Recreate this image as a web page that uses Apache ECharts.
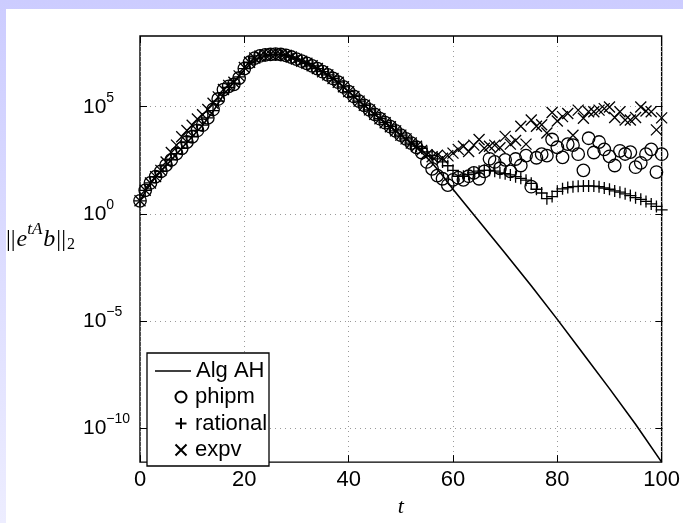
<!DOCTYPE html>
<html><head><meta charset="utf-8">
<script src="https://cdn.jsdelivr.net/npm/echarts@6.0.0/dist/echarts.min.js"></script>
<style>
html,body{margin:0;padding:0;width:683px;height:523px;overflow:hidden;background:linear-gradient(to bottom,#ccccff,#ededff);}
#paper{position:absolute;left:6px;top:9px;width:677px;height:514px;background:#fff;}
#chart{position:absolute;left:0;top:0;width:683px;height:523px;}
</style></head><body>
<div id="paper"></div><div id="chart"></div>
<script>
// ---- data (y values given as base-10 exponents) ----
const xTicks = [0, 20, 40, 60, 80, 100];
const yTickExps = [-10, -5, 0, 5];
const yMinExp = -12;
const yMaxExp = 8.301;

const algAHT = [0,2,4,6,8,10,12,14,16,18,20,22,24,26,28,30,32,34,36,38,40,42,44,46,48,50,52,54,56,58,60,65,70,75,80,85,90,95,100];
const algAHExp = [0.45,1.3,1.85,2.4,2.95,3.5,4.05,4.7,5.5,6.1,6.7,7.15,7.35,7.42,7.38,7.2,7.0,6.75,6.45,6.1,5.65,5.2,4.78,4.36,3.98,3.58,3.2,2.75,2.25,1.65,1.0,-0.52,-2.05,-3.6,-5.2,-6.85,-8.5,-10.2,-12.0];

const sampleT = [0,1,2,3,4,5,6,7,8,9,10,11,12,13,14,15,16,17,18,19,20,21,22,23,24,25,26,27,28,29,30,31,32,33,34,35,36,37,38,39,40,41,42,43,44,45,46,47,48,49,50,51,52,53,54,55,56,57,58,59,60,61,62,63,64,65,66,67,68,69,70,71,72,73,74,75,76,77,78,79,80,81,82,83,84,85,86,87,88,89,90,91,92,93,94,95,96,97,98,99,100];

const phipmExp = [0.45,0.95,1.3,1.6,1.85,2.15,2.4,2.7,2.95,3.25,
  3.5,3.8,4.05,4.4,4.8,5.3,5.75,5.9,6.0,6.3,
  6.75,7.05,7.25,7.35,7.4,7.43,7.44,7.42,7.38,7.3,
  7.2,7.1,7.0,6.88,6.75,6.6,6.45,6.28,6.1,5.88,
  5.65,5.42,5.2,5.0,4.78,4.57,4.36,4.17,3.98,3.78,
  3.58,3.4,3.2,3.0,2.75,2.3,1.97,1.65,1.5,1.2,
  1.45,1.55,1.45,1.62,1.78,1.5,1.85,2.45,2.3,2.0,
  2.4,1.85,2.44,2.13,2.6,1.12,2.5,2.67,2.6,3.37,
  3.0,2.52,3.15,3.1,2.67,1.9,3.43,2.75,3.25,2.9,
  2.57,2.13,2.83,2.68,2.77,2.05,2.26,2.67,2.9,1.82,2.67];

const rationalExp = [0.45,0.95,1.3,1.6,1.85,2.15,2.4,2.7,2.95,3.25,
  3.5,3.8,4.05,4.4,4.75,5.2,5.6,5.85,6.05,6.35,
  6.75,7.05,7.25,7.35,7.4,7.43,7.44,7.42,7.38,7.3,
  7.2,7.1,7.0,6.88,6.75,6.6,6.45,6.28,6.1,5.88,
  5.65,5.42,5.2,5.0,4.78,4.57,4.36,4.17,3.98,3.78,
  3.58,3.4,3.2,3.05,2.95,2.78,2.6,2.45,2.3,2.12,
  1.9,1.62,1.62,1.7,1.78,1.86,1.9,1.9,1.86,1.78,
  1.74,1.68,1.6,1.52,1.43,1.28,1.0,0.82,0.55,0.65,
  0.9,1.02,1.08,1.12,1.14,1.15,1.16,1.15,1.12,1.06,
  1.0,0.92,0.86,0.78,0.7,0.6,0.52,0.42,0.3,0.18,0.02];

const expvExp = [0.45,0.95,1.3,1.6,1.9,2.3,2.75,3.1,3.5,3.8,
  4.05,4.35,4.55,4.8,5.1,5.4,5.75,5.95,6.1,6.4,
  6.8,7.05,7.25,7.35,7.4,7.43,7.44,7.42,7.38,7.3,
  7.2,7.1,7.0,6.88,6.75,6.6,6.45,6.28,6.1,5.88,
  5.65,5.42,5.2,5.0,4.78,4.57,4.36,4.17,3.98,3.78,
  3.58,3.4,3.2,3.05,2.85,2.65,2.55,2.62,2.48,2.6,
  2.72,2.9,3.05,2.8,3.1,3.37,2.95,3.05,3.1,2.98,
  3.52,3.15,3.32,4.0,3.15,4.3,4.0,4.07,3.68,4.66,
  4.25,4.46,4.61,3.57,4.77,4.38,4.69,4.69,4.77,4.84,
  4.92,4.42,4.69,4.3,4.3,4.42,4.92,4.73,4.69,3.83,4.4];

// ---- layout ----
const plot = {left: 140, top: 36, width: 522.5, height: 435};
const pxPerDecade = plot.height / (yMaxExp - yMinExp);
const tickTop = plot.top + (yMaxExp - yTickExps[yTickExps.length - 1]) * pxPerDecade;
const tickHeight = (yTickExps[yTickExps.length - 1] - yTickExps[0]) * pxPerDecade;

const sans = 'Liberation Sans';
const serif = 'Liberation Serif';
const pairs = (ts, es) => ts.map((t, i) => [t, Math.pow(10, es[i])]);
const minus = n => (n < 0 ? '\u2212' + (-n) : String(n));

const chart = echarts.init(document.getElementById('chart'), null, {renderer: 'canvas'});
const tickStyle = {inside: true, length: 7, lineStyle: {color: '#000', width: 1}};
const gridLine = {show: true, lineStyle: {color: '#9a9a9a', width: 1, type: [1, 4]}};
const markerStyle = {color: 'none', borderColor: '#000', borderWidth: 1.3, opacity: 1};

chart.setOption({
  animation: false,
  backgroundColor: 'transparent',
  grid: [
    {left: plot.left, top: plot.top, width: plot.width, height: plot.height, show: true, borderColor: '#000', borderWidth: 1.4, backgroundColor: 'transparent'},
    {left: plot.left, top: tickTop, width: plot.width, height: tickHeight, show: false}
  ],
  xAxis: [
    {gridIndex: 0, type: 'value', min: xTicks[0], max: xTicks[xTicks.length - 1], interval: xTicks[1] - xTicks[0], position: 'bottom',
     axisLine: {show: false}, axisTick: tickStyle,
     axisLabel: {fontSize: 22, color: '#000', margin: 7, fontFamily: sans},
     splitLine: gridLine,
     name: 't', nameLocation: 'middle', nameGap: 28,
     nameTextStyle: {fontFamily: serif, fontStyle: 'italic', fontSize: 22, color: '#000'}},
    {gridIndex: 0, type: 'value', min: xTicks[0], max: xTicks[xTicks.length - 1], interval: xTicks[1] - xTicks[0], position: 'top',
     axisLine: {show: false}, axisTick: tickStyle, axisLabel: {show: false}, splitLine: {show: false}},
    {gridIndex: 1, type: 'value', min: 0, max: 100, show: false}
  ],
  yAxis: [
    {gridIndex: 0, type: 'log', logBase: 10, min: Math.pow(10, yMinExp), max: Math.pow(10, yMaxExp), show: false},
    {gridIndex: 1, type: 'value', min: yTickExps[0], max: yTickExps[yTickExps.length - 1], interval: yTickExps[1] - yTickExps[0], position: 'left',
     axisLine: {show: false}, axisTick: tickStyle, splitLine: gridLine,
     axisLabel: {
       align: 'left', margin: 57,
       formatter: v => '{b|10}{s|' + minus(v) + '}',
       rich: {
         b: {fontSize: 21, fontFamily: sans, color: '#000', lineHeight: 32},
         s: {fontSize: 14, fontFamily: sans, color: '#000', lineHeight: 14, verticalAlign: 'top'}
       }
     }},
    {gridIndex: 1, type: 'value', min: yTickExps[0], max: yTickExps[yTickExps.length - 1], interval: yTickExps[1] - yTickExps[0], position: 'right',
     axisLine: {show: false}, axisTick: tickStyle, axisLabel: {show: false}, splitLine: {show: false}}
  ],
  legend: [
    {data: [{name: 'Alg AH', icon: 'rect'}], orient: 'vertical', left: 155, top: 358, padding: 0, itemGap: 0, itemWidth: 36, itemHeight: 1.6,
     selectedMode: false, textStyle: {fontSize: 22, fontFamily: sans, color: '#000', lineHeight: 26}},
    {data: ['phipm', 'rational', 'expv'], orient: 'vertical', left: 173, top: 384, padding: 0, itemGap: 0.5, itemWidth: 18, itemHeight: 11,
     selectedMode: false, textStyle: {fontSize: 22, fontFamily: sans, color: '#000', lineHeight: 26}}
  ],
  graphic: [
    {type: 'rect', z: 3, shape: {x: 147, y: 353, width: 122, height: 113}, style: {fill: '#fff', stroke: '#000', lineWidth: 1.3}},
    {type: 'text', z: 3, x: 5, y: 240, style: {
      text: '{n|||}{e|e}{sup|tA}{e|b}{n|||}{sub|2}',
      verticalAlign: 'middle', align: 'left',
      rich: {
        n: {fontFamily: serif, fontSize: 24, lineHeight: 38, fill: '#000', padding: [0, 1, 0, 1]},
        e: {fontFamily: serif, fontStyle: 'italic', fontSize: 24, lineHeight: 38, fill: '#000'},
        sup: {fontFamily: serif, fontStyle: 'italic', fontSize: 17, lineHeight: 17, verticalAlign: 'top', fill: '#000', padding: [0, 1, 0, 0]},
        sub: {fontFamily: serif, fontSize: 16, lineHeight: 16, verticalAlign: 'bottom', padding: [0, 0, 6, 0], fill: '#000'}
      }
    }}
  ],
  series: [
    {type: 'line', name: 'Alg AH', xAxisIndex: 0, yAxisIndex: 0, data: pairs(algAHT, algAHExp),
     symbol: 'none', lineStyle: {color: '#000', width: 1.6}, itemStyle: {color: '#000'}, emphasis: {disabled: true}},
    {type: 'scatter', name: 'phipm', xAxisIndex: 0, yAxisIndex: 0, data: pairs(sampleT, phipmExp),
     symbol: 'circle', symbolSize: 12.5, itemStyle: markerStyle, emphasis: {disabled: true}},
    {type: 'scatter', name: 'rational', xAxisIndex: 0, yAxisIndex: 0, data: pairs(sampleT, rationalExp),
     symbol: 'path://M5 0L5 10M0 5L10 5', symbolSize: 12, itemStyle: markerStyle, emphasis: {disabled: true}},
    {type: 'scatter', name: 'expv', xAxisIndex: 0, yAxisIndex: 0, data: pairs(sampleT, expvExp),
     symbol: 'path://M0 0L10 10M10 0L0 10', symbolSize: 11, itemStyle: markerStyle, emphasis: {disabled: true}}
  ]
});
</script>
</body></html>
